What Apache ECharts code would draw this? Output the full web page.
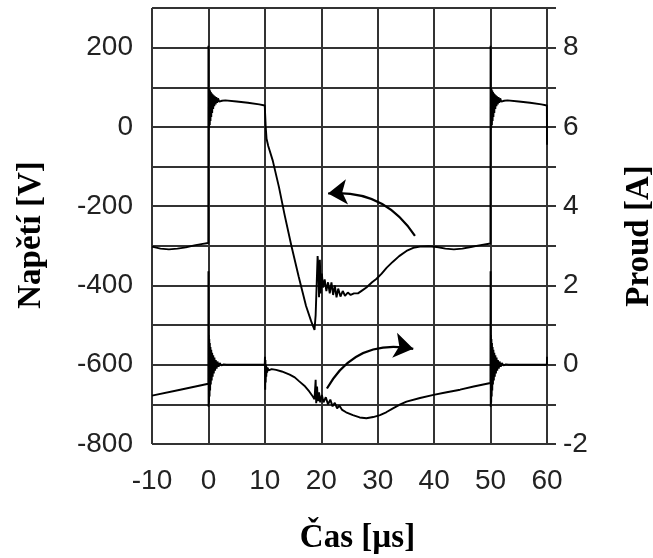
<!DOCTYPE html>
<html><head><meta charset="utf-8">
<script src="https://cdn.jsdelivr.net/npm/echarts@6/dist/echarts.min.js"></script>
<style>html,body{margin:0;padding:0;background:#fff}#c{width:653px;height:558px}</style>
</head><body><div id="c"></div>
<script>
// Voltage trace (left axis, V)
const voltTime = [-10,-8.5,-7,-5.5,-4,-2.5,-1,-0.02,
  0,0.03,0.08,0.13,0.18,0.24,0.3,0.36,0.43,0.5,0.58,0.66,0.75,0.84,0.94,1.04,1.15,1.27,1.4,1.55,1.7,1.9,2.1,2.4,3,5,7,9,9.98,
  10.15,10.3,10.6,11.4,12.5,13.5,14.7,16,17.3,18.2,18.8,
  19.0,19.2,19.35,19.5,19.6,19.75,19.9,20.1,20.3,20.6,20.9,21.2,21.5,21.8,22.1,22.4,22.7,23.0,23.4,23.8,24.2,24.7,25.2,25.8,26.5,27.2,28.0,29.0,29.8,30.7,31.6,32.7,33.8,35.1,36.3,37.5,39,40.5,42,43.5,45,46.5,48,49.98,
  50,50.03,50.08,50.13,50.18,50.24,50.3,50.36,50.43,50.5,50.58,50.66,50.75,50.84,50.94,51.04,51.15,51.27,51.4,51.55,51.7,51.9,52.1,52.4,53,55,57,59,59.98,60];
const voltage = [-302,-307,-309,-307,-304,-299,-295,-293,
  205,-8,98,-2,95,5,92,15,88,25,85,35,82,45,80,52,77,57,75,61,72,64,69,66,67,64,61,57,54,
  0,-30,-48,-85,-152,-222,-300,-378,-452,-490,-512,
  -475,-390,-326,-360,-430,-335,-420,-370,-405,-385,-414,-392,-420,-392,-424,-400,-430,-408,-428,-414,-426,-418,-424,-420,-420,-413,-405,-392,-383,-370,-355,-340,-326,-313,-305,-302,-301,-303,-307,-309,-307,-303,-299,-294,
  205,-8,98,-2,95,5,92,15,88,25,85,35,82,45,80,52,77,57,75,61,72,64,69,66,67,64,61,57,54,-45];

// Current trace (right axis, A)
const currTime = [-10,-5,-0.02,
  0,0.03,0.07,0.11,0.15,0.2,0.25,0.3,0.36,0.42,0.5,0.58,0.66,0.75,0.85,0.95,1.06,1.18,1.3,1.45,1.6,1.8,2.0,2.3,2.7,3.2,9.98,
  10.02,10.06,10.1,10.15,10.2,10.25,10.32,10.4,10.5,10.65,10.8,11.2,12,13,14.4,15.3,16.1,17.0,17.9,18.5,18.8,
  19.0,19.1,19.25,19.4,19.6,19.8,20.1,20.4,20.8,21.2,21.6,22.0,22.4,22.8,23.2,23.7,24.4,25.6,26.8,28.0,29.2,30.4,31.5,32.7,34,35.1,37.5,39.9,42,44.6,47,49.98,
  50,50.03,50.07,50.11,50.15,50.2,50.25,50.3,50.36,50.42,50.5,50.58,50.66,50.75,50.85,50.95,51.06,51.18,51.3,51.45,51.6,51.8,52.0,52.3,52.7,53.2,59.98,60];
const current = [-0.78,-0.63,-0.48,
  2.36,-1.06,0.75,-0.95,0.65,-0.8,0.55,-0.65,0.45,-0.5,0.38,-0.4,0.3,-0.3,0.24,-0.22,0.18,-0.15,0.12,-0.1,0.08,-0.05,0.04,-0.02,0.01,0,0,
  0.2,-0.63,0.12,-0.45,0.0,-0.3,-0.05,-0.2,-0.08,-0.14,-0.1,-0.11,-0.13,-0.17,-0.25,-0.32,-0.42,-0.53,-0.68,-0.8,-0.87,
  -0.38,-0.97,-0.55,-0.92,-0.7,-0.95,-0.76,-0.95,-0.82,-1.0,-0.88,-1.05,-0.96,-1.1,-1.03,-1.14,-1.2,-1.27,-1.33,-1.35,-1.32,-1.27,-1.2,-1.1,-1.0,-0.93,-0.84,-0.76,-0.7,-0.63,-0.55,-0.46,
  2.36,-1.06,0.75,-0.95,0.65,-0.8,0.55,-0.65,0.45,-0.5,0.38,-0.4,0.3,-0.3,0.24,-0.22,0.18,-0.15,0.12,-0.1,0.08,-0.05,0.04,-0.02,0.01,0,0,0.2];

// Annotation arrows (start, tip) in data coordinates
const voltArrow = [[36.6,-275],[21.2,-168]];
const currArrow = [[21.0,-0.6],[36.3,0.40]];

const xMin = -10, xMax = 60, xStep = 10;
const vMin = -800, vMax = 300, vStep = 100;
const iMin = -2, iMax = 9, iStep = 1;

const pairs = (xs, ys) => xs.map((x, k) => [x, ys[k]]);
const gridColor = '#333333';
const labelFont = {fontFamily: 'Liberation Sans, Arial, sans-serif', fontSize: 28, color: '#222'};
const titleFont = {fontFamily: 'Liberation Serif, Times New Roman, serif', fontWeight: 'bold', fontSize: 33, color: '#000'};

const chart = echarts.init(document.getElementById('c'), null, {renderer: 'canvas'});
chart.setOption({
  animation: false,
  backgroundColor: '#fff',
  grid: {left: 152, right: 106, top: 8, bottom: 114, containLabel: false, outerBoundsMode: 'none'},
  xAxis: {
    type: 'value', min: xMin, max: xMax, interval: xStep,
    name: 'Čas [µs]', nameLocation: 'middle', nameGap: 78, nameTextStyle: Object.assign({padding: [0, 0, 0, 16]}, titleFont),
    axisLine: {show: true, lineStyle: {color: gridColor, width: 2}},
    axisTick: {show: true, inside: false, length: 10, lineStyle: {color: gridColor, width: 2}},
    axisLabel: Object.assign({margin: 23}, labelFont),
    splitLine: {show: true, lineStyle: {color: gridColor, width: 2}}
  },
  yAxis: [{
    type: 'value', position: 'left', min: vMin, max: vMax, interval: vStep,
    name: 'Napětí [V]', nameLocation: 'middle', nameGap: 104, nameRotate: 90,
    nameTextStyle: Object.assign({padding: [0, 18, 0, 0]}, titleFont),
    axisLine: {show: true, lineStyle: {color: gridColor, width: 2}},
    axisTick: {show: true, inside: false, length: 8, lineStyle: {color: gridColor, width: 2}},
    axisLabel: Object.assign({margin: 19, formatter: v => (v % 200 === 0 ? String(v) : '')}, labelFont),
    splitLine: {show: true, lineStyle: {color: gridColor, width: 2}}
  }, {
    type: 'value', position: 'right', min: iMin, max: iMax, interval: iStep,
    name: 'Proud [A]', nameLocation: 'middle', nameGap: 76, nameRotate: 90,
    nameTextStyle: Object.assign({padding: [0, 20, 0, 0]}, titleFont),
    axisLine: {show: true, lineStyle: {color: gridColor, width: 2}},
    axisTick: {show: true, inside: false, length: 9, lineStyle: {color: gridColor, width: 2}},
    axisLabel: Object.assign({margin: 16, formatter: v => (v % 2 === 0 ? String(v) : '')}, labelFont),
    splitLine: {show: false}
  }],
  series: [{
    name: 'Napětí', type: 'line', yAxisIndex: 0, data: pairs(voltTime, voltage),
    showSymbol: false, symbol: 'none', lineStyle: {color: '#000', width: 1.9}, z: 5
  }, {
    name: 'Proud', type: 'line', yAxisIndex: 1, data: pairs(currTime, current),
    showSymbol: false, symbol: 'none', lineStyle: {color: '#000', width: 1.9}, z: 5
  }, {
    type: 'lines', coordinateSystem: 'cartesian2d', xAxisIndex: 0, yAxisIndex: 0,
    symbol: ['none', 'arrow'], symbolSize: 19,
    lineStyle: {color: '#000', width: 2.2, curveness: -0.3, opacity: 1},
    data: [{coords: voltArrow}], z: 6
  }, {
    type: 'lines', coordinateSystem: 'cartesian2d', xAxisIndex: 0, yAxisIndex: 1,
    symbol: ['none', 'arrow'], symbolSize: 19,
    lineStyle: {color: '#000', width: 2.2, curveness: 0.36, opacity: 1},
    data: [{coords: currArrow}], z: 6
  }]
});
</script>
</body></html>
